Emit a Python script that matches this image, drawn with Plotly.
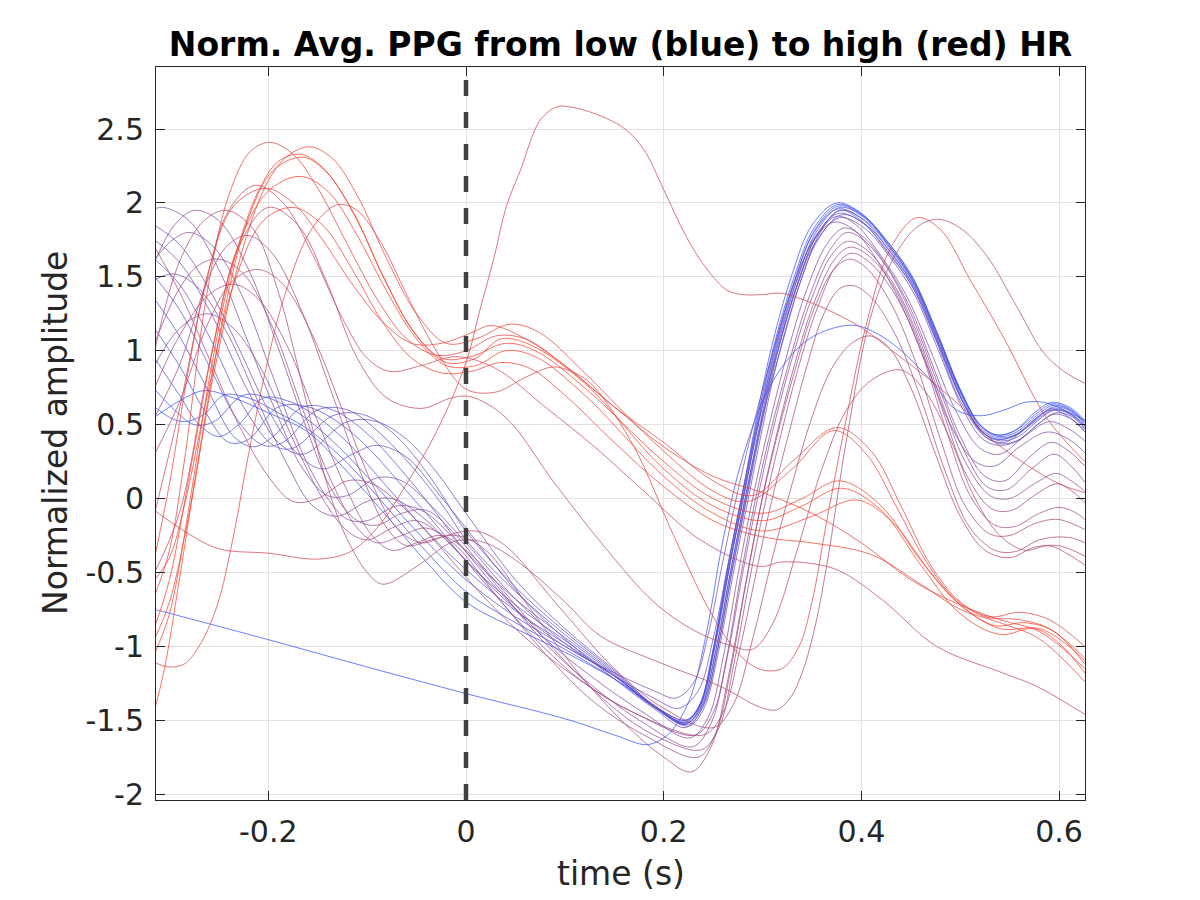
import plotly.graph_objects as go

# ---------------- data ----------------
# x tick / y tick labels
X_TICKS = [-0.2, 0.0, 0.2, 0.4, 0.6]
X_TICK_TEXT = ["-0.2", "0", "0.2", "0.4", "0.6"]
Y_TICKS = [-2, -1.5, -1, -0.5, 0, 0.5, 1, 1.5, 2, 2.5]
Y_TICK_TEXT = ["-2", "-1.5", "-1", "-0.5", "0", "0.5", "1", "1.5", "2", "2.5"]

# outlier (lowest HR)
T_BX = [-0.315, -0.2, -0.1, 0.0, 0.1, 0.15, 0.183, 0.2, 0.209, 0.22, 0.23, 0.245, 0.26, 0.28, 0.3075, 0.341, 0.37, 0.395, 0.42, 0.442, 0.47, 0.496, 0.52, 0.545, 0.565, 0.585, 0.605, 0.626]
V_BX = [-0.75, -0.955, -1.14, -1.32, -1.49, -1.6, -1.666, -1.62, -1.565, -1.45, -1.29, -0.85, -0.28, 0.28, 0.76, 1.05, 1.15, 1.17, 1.1, 0.99, 0.8, 0.6, 0.56, 0.6, 0.65, 0.65, 0.6, 0.53]

# blue bundle
T_B1 = [-0.315, -0.29, -0.265, -0.235, -0.2, -0.16, -0.12, -0.08, -0.04, 0.0, 0.05, 0.1, 0.15, 0.19, 0.22, 0.235, 0.25, 0.265, 0.28, 0.295, 0.31, 0.33, 0.35, 0.375, 0.4, 0.425, 0.45, 0.475, 0.5, 0.52, 0.537, 0.555, 0.575, 0.592, 0.61, 0.626]
V_B1 = [0.55, 0.66, 0.73, 0.68, 0.58, 0.45, 0.18, -0.12, -0.43, -0.70, -0.88, -1.04, -1.22, -1.40, -1.52, -1.42, -1.02, -0.45, 0.05, 0.58, 1.05, 1.52, 1.85, 2.0, 1.93, 1.75, 1.52, 1.15, 0.74, 0.5, 0.43, 0.46, 0.58, 0.65, 0.62, 0.53]
T_B2 = [-0.315, -0.3, -0.285, -0.265, -0.245, -0.22, -0.19, -0.16, -0.12, -0.08, -0.04, 0.0, 0.05, 0.1, 0.15, 0.19, 0.221, 0.236, 0.251, 0.266, 0.281, 0.296, 0.312, 0.332, 0.352, 0.376, 0.401, 0.426, 0.451, 0.476, 0.501, 0.521, 0.538, 0.556, 0.576, 0.593, 0.61, 0.626]
V_B2 = [0.62, 0.55, 0.52, 0.57, 0.70, 0.68, 0.58, 0.47, 0.24, -0.06, -0.36, -0.63, -0.84, -1.02, -1.22, -1.41, -1.53, -1.42, -1.0, -0.43, 0.07, 0.58, 1.05, 1.5, 1.83, 1.99, 1.92, 1.74, 1.5, 1.13, 0.72, 0.49, 0.43, 0.46, 0.57, 0.64, 0.61, 0.52]
T_B3 = [-0.315, -0.295, -0.275, -0.255, -0.225, -0.2, -0.17, -0.14, -0.1, -0.06, -0.03, 0.0, 0.05, 0.1, 0.15, 0.19, 0.222, 0.237, 0.252, 0.267, 0.282, 0.297, 0.313, 0.333, 0.353, 0.377, 0.402, 0.427, 0.452, 0.477, 0.502, 0.522, 0.539, 0.557, 0.577, 0.594, 0.611, 0.626]
V_B3 = [0.74, 0.6, 0.5, 0.52, 0.7, 0.68, 0.58, 0.42, 0.15, -0.15, -0.36, -0.55, -0.8, -1.0, -1.2, -1.4, -1.5, -1.4, -1.0, -0.45, 0.05, 0.55, 1.02, 1.48, 1.82, 1.98, 1.91, 1.72, 1.48, 1.1, 0.7, 0.48, 0.42, 0.45, 0.56, 0.63, 0.6, 0.51]
T_B4 = [-0.315, -0.29, -0.27, -0.25, -0.23, -0.205, -0.18, -0.15, -0.12, -0.08, -0.04, 0.0, 0.05, 0.1, 0.15, 0.19, 0.223, 0.238, 0.253, 0.268, 0.283, 0.298, 0.314, 0.334, 0.354, 0.378, 0.403, 0.428, 0.453, 0.478, 0.503, 0.523, 0.54, 0.558, 0.578, 0.595, 0.612, 0.626]
V_B4 = [0.95, 0.7, 0.5, 0.42, 0.5, 0.68, 0.66, 0.55, 0.38, 0.08, -0.22, -0.48, -0.76, -0.98, -1.2, -1.4, -1.52, -1.41, -1.02, -0.48, 0.02, 0.52, 1.0, 1.46, 1.8, 1.97, 1.9, 1.71, 1.46, 1.08, 0.68, 0.46, 0.41, 0.44, 0.55, 0.62, 0.59, 0.5]
T_B5 = [-0.315, -0.29, -0.265, -0.24, -0.22, -0.19, -0.16, -0.13, -0.1, -0.06, -0.03, 0.0, 0.05, 0.1, 0.15, 0.19, 0.221, 0.236, 0.251, 0.266, 0.281, 0.296, 0.312, 0.332, 0.352, 0.376, 0.401, 0.426, 0.451, 0.476, 0.501, 0.521, 0.538, 0.556, 0.576, 0.593, 0.61, 0.626]
V_B5 = [1.15, 0.9, 0.6, 0.38, 0.4, 0.62, 0.62, 0.52, 0.35, 0.05, -0.18, -0.42, -0.72, -0.96, -1.2, -1.41, -1.51, -1.4, -1.0, -0.46, 0.04, 0.55, 1.02, 1.47, 1.8, 1.96, 1.89, 1.7, 1.46, 1.08, 0.68, 0.46, 0.4, 0.43, 0.54, 0.61, 0.58, 0.49]
T_B6 = [-0.315, -0.29, -0.26, -0.235, -0.215, -0.195, -0.165, -0.135, -0.1, -0.06, -0.03, 0.0, 0.05, 0.1, 0.15, 0.19, 0.224, 0.239, 0.254, 0.269, 0.284, 0.299, 0.315, 0.335, 0.355, 0.379, 0.404, 0.429, 0.454, 0.479, 0.504, 0.524, 0.541, 0.559, 0.579, 0.596, 0.613, 0.626]
V_B6 = [1.35, 1.1, 0.72, 0.42, 0.35, 0.42, 0.62, 0.6, 0.44, 0.15, -0.1, -0.36, -0.68, -0.94, -1.19, -1.41, -1.53, -1.42, -1.04, -0.5, 0.0, 0.5, 0.98, 1.44, 1.78, 1.95, 1.88, 1.69, 1.44, 1.05, 0.65, 0.44, 0.39, 0.42, 0.53, 0.6, 0.57, 0.49]
T_B7 = [-0.315, -0.29, -0.26, -0.23, -0.205, -0.185, -0.15, -0.12, -0.09, -0.05, -0.02, 0.0, 0.05, 0.1, 0.15, 0.19, 0.222, 0.237, 0.252, 0.267, 0.282, 0.297, 0.313, 0.333, 0.353, 0.377, 0.402, 0.427, 0.452, 0.477, 0.502, 0.522, 0.539, 0.557, 0.577, 0.594, 0.611, 0.626]
V_B7 = [1.5, 1.28, 0.9, 0.52, 0.36, 0.38, 0.6, 0.6, 0.46, 0.18, -0.08, -0.28, -0.63, -0.92, -1.18, -1.4, -1.5, -1.39, -0.98, -0.44, 0.05, 0.54, 1.0, 1.45, 1.77, 1.93, 1.86, 1.67, 1.43, 1.05, 0.66, 0.45, 0.4, 0.43, 0.53, 0.6, 0.57, 0.48]
T_B8 = [-0.315, -0.29, -0.26, -0.225, -0.195, -0.175, -0.135, -0.105, -0.075, -0.04, 0.0, 0.05, 0.1, 0.15, 0.19, 0.225, 0.24, 0.255, 0.27, 0.285, 0.3, 0.316, 0.336, 0.356, 0.38, 0.405, 0.43, 0.455, 0.48, 0.505, 0.525, 0.542, 0.56, 0.58, 0.597, 0.614, 0.626]
V_B8 = [1.62, 1.45, 1.1, 0.62, 0.36, 0.34, 0.56, 0.57, 0.45, 0.18, -0.22, -0.6, -0.9, -1.17, -1.4, -1.54, -1.43, -1.05, -0.52, -0.02, 0.48, 0.96, 1.42, 1.75, 1.92, 1.85, 1.66, 1.41, 1.02, 0.62, 0.42, 0.37, 0.4, 0.51, 0.58, 0.55, 0.47]
T_B9 = [-0.315, -0.29, -0.26, -0.22, -0.19, -0.165, -0.12, -0.09, -0.06, -0.03, 0.0, 0.05, 0.1, 0.15, 0.19, 0.223, 0.238, 0.253, 0.268, 0.283, 0.298, 0.314, 0.334, 0.354, 0.378, 0.403, 0.428, 0.453, 0.478, 0.503, 0.523, 0.54, 0.558, 0.578, 0.595, 0.612, 0.626]
V_B9 = [1.75, 1.6, 1.28, 0.72, 0.38, 0.3, 0.52, 0.52, 0.4, 0.18, -0.1, -0.55, -0.88, -1.16, -1.4, -1.52, -1.41, -1.02, -0.48, 0.02, 0.5, 0.97, 1.42, 1.74, 1.9, 1.83, 1.64, 1.39, 1.0, 0.6, 0.4, 0.36, 0.39, 0.5, 0.57, 0.54, 0.46]

# purple group
T_M1 = [-0.315, -0.29, -0.26, -0.23, -0.2, -0.17, -0.145, -0.115, -0.09, -0.06, -0.03, 0.0, 0.05, 0.1, 0.15, 0.19, 0.222, 0.24, 0.255, 0.27, 0.285, 0.3, 0.32, 0.34, 0.36, 0.378, 0.4, 0.425, 0.45, 0.475, 0.5, 0.525, 0.545, 0.57, 0.592, 0.61, 0.626]
V_M1 = [1.85, 1.72, 1.42, 1.02, 0.6, 0.3, 0.2, 0.3, 0.36, 0.28, 0.05, -0.2, -0.62, -0.95, -1.22, -1.42, -1.55, -1.4, -1.0, -0.45, 0.05, 0.55, 1.05, 1.5, 1.82, 1.95, 1.88, 1.68, 1.45, 1.08, 0.66, 0.42, 0.38, 0.5, 0.6, 0.55, 0.45]
T_M2 = [-0.315, -0.306, -0.28, -0.25, -0.22, -0.19, -0.165, -0.14, -0.12, -0.09, -0.065, -0.035, 0.0, 0.05, 0.1, 0.15, 0.19, 0.215, 0.235, 0.25, 0.265, 0.28, 0.295, 0.315, 0.335, 0.355, 0.375, 0.395, 0.42, 0.445, 0.47, 0.495, 0.52, 0.54, 0.565, 0.59, 0.61, 0.626]
V_M2 = [1.96, 1.97, 1.88, 1.55, 1.05, 0.55, 0.2, 0.02, 0.02, 0.14, 0.12, -0.05, -0.3, -0.68, -0.98, -1.2, -1.35, -1.42, -1.3, -0.95, -0.45, 0.05, 0.5, 1.0, 1.45, 1.78, 1.91, 1.85, 1.64, 1.38, 1.0, 0.6, 0.34, 0.3, 0.42, 0.52, 0.47, 0.39]
T_M3 = [-0.315, -0.295, -0.27, -0.24, -0.21, -0.18, -0.155, -0.13, -0.1, -0.075, -0.045, 0.0, 0.05, 0.1, 0.15, 0.19, 0.212, 0.23, 0.245, 0.26, 0.275, 0.29, 0.31, 0.33, 0.352, 0.372, 0.392, 0.415, 0.44, 0.465, 0.49, 0.515, 0.535, 0.56, 0.588, 0.61, 0.626]
V_M3 = [1.48, 1.52, 1.42, 1.1, 0.65, 0.22, -0.05, -0.12, -0.02, 0.0, -0.12, -0.42, -0.75, -1.0, -1.18, -1.3, -1.35, -1.25, -0.92, -0.42, 0.05, 0.48, 0.98, 1.42, 1.75, 1.87, 1.82, 1.62, 1.32, 0.92, 0.5, 0.25, 0.22, 0.35, 0.45, 0.4, 0.31]
T_M4 = [-0.315, -0.295, -0.279, -0.255, -0.225, -0.195, -0.165, -0.14, -0.12, -0.1, -0.07, -0.045, -0.015, 0.03, 0.08, 0.13, 0.18, 0.226, 0.245, 0.26, 0.275, 0.29, 0.305, 0.325, 0.345, 0.365, 0.382, 0.4, 0.425, 0.45, 0.475, 0.5, 0.525, 0.545, 0.57, 0.592, 0.61, 0.626]
V_M4 = [1.62, 1.76, 1.80, 1.7, 1.35, 0.82, 0.3, 0.0, -0.14, -0.15, -0.05, -0.08, -0.25, -0.6, -0.95, -1.22, -1.45, -1.62, -1.48, -1.08, -0.52, 0.0, 0.45, 0.98, 1.42, 1.72, 1.83, 1.78, 1.58, 1.28, 0.85, 0.42, 0.15, 0.12, 0.28, 0.38, 0.32, 0.22]
T_M5 = [-0.315, -0.295, -0.275, -0.25, -0.22, -0.19, -0.16, -0.135, -0.11, -0.09, -0.065, -0.04, -0.01, 0.03, 0.08, 0.13, 0.18, 0.229, 0.248, 0.263, 0.278, 0.293, 0.308, 0.328, 0.348, 0.368, 0.385, 0.402, 0.427, 0.452, 0.477, 0.502, 0.527, 0.547, 0.572, 0.595, 0.612, 0.626]
V_M5 = [1.6, 1.85, 1.95, 1.88, 1.55, 1.02, 0.45, 0.05, -0.15, -0.18, -0.1, -0.08, -0.25, -0.58, -0.98, -1.28, -1.52, -1.68, -1.52, -1.1, -0.52, 0.0, 0.45, 0.95, 1.38, 1.68, 1.80, 1.75, 1.55, 1.22, 0.78, 0.35, 0.08, 0.06, 0.2, 0.3, 0.22, 0.11]
T_M6 = [-0.315, -0.29, -0.262, -0.235, -0.205, -0.175, -0.145, -0.12, -0.1, -0.075, -0.05, -0.02, 0.02, 0.07, 0.12, 0.17, 0.232, 0.25, 0.265, 0.28, 0.295, 0.31, 0.33, 0.35, 0.37, 0.386, 0.404, 0.43, 0.455, 0.48, 0.505, 0.53, 0.55, 0.575, 0.597, 0.612, 0.626]
V_M6 = [0.9, 1.15, 1.25, 1.15, 0.85, 0.4, 0.0, -0.22, -0.28, -0.2, -0.15, -0.28, -0.58, -0.95, -1.25, -1.45, -1.6, -1.45, -1.05, -0.5, 0.0, 0.45, 0.95, 1.36, 1.65, 1.74, 1.69, 1.48, 1.14, 0.68, 0.25, 0.02, 0.0, 0.1, 0.17, 0.12, 0.05]
T_M7 = [-0.315, -0.29, -0.27, -0.25, -0.225, -0.195, -0.165, -0.135, -0.11, -0.09, -0.065, -0.04, -0.01, 0.03, 0.08, 0.13, 0.18, 0.235, 0.253, 0.268, 0.283, 0.298, 0.313, 0.333, 0.353, 0.373, 0.388, 0.406, 0.432, 0.457, 0.482, 0.507, 0.532, 0.552, 0.577, 0.598, 0.613, 0.626]
V_M7 = [1.05, 1.42, 1.58, 1.62, 1.52, 1.15, 0.6, 0.1, -0.2, -0.3, -0.25, -0.2, -0.32, -0.65, -1.05, -1.38, -1.6, -1.75, -1.58, -1.15, -0.58, -0.05, 0.4, 0.92, 1.34, 1.62, 1.70, 1.65, 1.44, 1.08, 0.6, 0.15, -0.07, -0.08, 0.03, 0.1, 0.05, -0.03]
T_M8 = [-0.315, -0.29, -0.26, -0.235, -0.21, -0.18, -0.15, -0.12, -0.095, -0.075, -0.05, -0.025, 0.005, 0.05, 0.1, 0.15, 0.19, 0.238, 0.256, 0.271, 0.286, 0.301, 0.316, 0.336, 0.356, 0.375, 0.39, 0.408, 0.434, 0.46, 0.485, 0.51, 0.535, 0.555, 0.58, 0.6, 0.615, 0.626]
V_M8 = [0.75, 1.1, 1.38, 1.45, 1.35, 1.02, 0.52, 0.05, -0.25, -0.35, -0.3, -0.25, -0.38, -0.72, -1.1, -1.42, -1.6, -1.7, -1.55, -1.12, -0.58, -0.08, 0.36, 0.88, 1.3, 1.58, 1.66, 1.6, 1.38, 1.0, 0.48, 0.02, -0.18, -0.19, -0.1, -0.06, -0.09, -0.14]
T_M9 = [-0.315, -0.29, -0.26, -0.24, -0.22, -0.195, -0.165, -0.135, -0.105, -0.08, -0.06, -0.035, -0.01, 0.02, 0.06, 0.11, 0.16, 0.2, 0.228, 0.248, 0.265, 0.28, 0.296, 0.312, 0.332, 0.352, 0.372, 0.388, 0.405, 0.43, 0.455, 0.48, 0.505, 0.53, 0.55, 0.575, 0.597, 0.613, 0.626]
V_M9 = [0.55, 0.9, 1.5, 1.72, 1.78, 1.65, 1.25, 0.7, 0.15, -0.2, -0.32, -0.28, -0.25, -0.35, -0.7, -1.15, -1.52, -1.75, -1.85, -1.68, -1.22, -0.68, -0.12, 0.35, 0.85, 1.28, 1.55, 1.62, 1.56, 1.32, 0.92, 0.4, -0.05, -0.24, -0.25, -0.17, -0.14, -0.17, -0.21]
T_M10 = [-0.315, -0.29, -0.26, -0.23, -0.2, -0.175, -0.15, -0.12, -0.095, -0.065, -0.03, 0.02, 0.07, 0.12, 0.17, 0.24, 0.26, 0.276, 0.292, 0.308, 0.325, 0.345, 0.362, 0.378, 0.392, 0.41, 0.435, 0.46, 0.485, 0.51, 0.535, 0.555, 0.58, 0.6, 0.615, 0.626]
V_M10 = [1.7, 1.4, 0.95, 0.5, 0.15, -0.02, 0.0, 0.12, 0.1, -0.05, -0.3, -0.68, -1.0, -1.25, -1.45, -1.6, -1.45, -1.05, -0.55, -0.05, 0.4, 0.9, 1.25, 1.42, 1.44, 1.36, 1.1, 0.68, 0.18, -0.2, -0.35, -0.36, -0.28, -0.26, -0.27, -0.3]
T_M11 = [-0.315, -0.29, -0.26, -0.235, -0.21, -0.185, -0.155, -0.125, -0.095, -0.07, -0.045, -0.02, 0.01, 0.04, 0.09, 0.15, 0.2, 0.25, 0.27, 0.29, 0.31, 0.33, 0.35, 0.37, 0.39, 0.409, 0.428, 0.45, 0.475, 0.5, 0.525, 0.55, 0.575, 0.6, 0.626]
V_M11 = [0.3, 0.65, 1.2, 1.48, 1.55, 1.45, 1.1, 0.6, 0.1, -0.2, -0.3, -0.25, -0.22, -0.32, -0.7, -1.15, -1.42, -1.55, -1.4, -0.95, -0.4, 0.1, 0.55, 0.88, 1.05, 1.1, 1.02, 0.75, 0.3, -0.12, -0.35, -0.4, -0.33, -0.32, -0.39]

# pink / magenta curves
T_L2 = [-0.315, -0.29, -0.265, -0.242, -0.215, -0.19, -0.165, -0.145, -0.124, -0.1, -0.084, -0.05, -0.016, 0.0, 0.02, 0.055, 0.1, 0.136, 0.196, 0.257, 0.297, 0.314, 0.328, 0.34, 0.352, 0.365, 0.385, 0.409, 0.432, 0.455, 0.476, 0.5, 0.527, 0.557, 0.584, 0.605, 0.626]
V_L2 = [1.0, 1.6, 1.88, 1.95, 1.82, 1.4, 0.75, 0.2, -0.22, -0.5, -0.58, -0.46, -0.3, -0.28, -0.3, -0.44, -0.7, -0.93, -1.11, -1.27, -1.41, -1.43, -1.35, -1.18, -0.9, -0.45, 0.4, 1.22, 1.62, 1.83, 1.89, 1.83, 1.64, 1.3, 0.99, 0.86, 0.78]
T_Q2 = [-0.315, -0.29, -0.26, -0.23, -0.2, -0.17, -0.14, -0.11, -0.08, -0.045, -0.015, 0.004, 0.04, 0.09, 0.143, 0.19, 0.23, 0.27, 0.29, 0.31, 0.335, 0.36, 0.385, 0.41, 0.44, 0.465, 0.49, 0.515, 0.54, 0.565, 0.59, 0.61, 0.626]
V_Q2 = [-0.5, -0.1, 0.9, 1.7, 1.97, 1.85, 1.45, 0.95, 0.68, 0.61, 0.68, 0.69, 0.55, 0.1, -0.35, -0.7, -0.89, -1.0, -1.02, -0.85, -0.35, 0.2, 0.6, 0.8, 0.87, 0.72, 0.4, 0.0, -0.25, -0.35, -0.32, -0.38, -0.45]
T_Q1 = [-0.315, -0.29, -0.265, -0.24, -0.213, -0.185, -0.155, -0.125, -0.1, -0.077, -0.045, -0.01, 0.03, 0.08, 0.13, 0.18, 0.237, 0.297, 0.318, 0.35, 0.378, 0.422, 0.476, 0.543, 0.577, 0.626]
V_Q1 = [-0.1, 0.6, 1.4, 1.95, 2.12, 2.0, 1.65, 1.22, 0.95, 0.86, 0.9, 0.96, 0.88, 0.62, 0.35, 0.05, -0.28, -0.46, -0.43, -0.44, -0.49, -0.69, -1.0, -1.18, -1.27, -1.46]
T_PB = [-0.315, -0.285, -0.25, -0.2, -0.15, -0.117, -0.09, -0.06, -0.03, 0.0, 0.014, 0.028, 0.041, 0.055, 0.075, 0.092, 0.105, 0.136, 0.161, 0.18, 0.2, 0.223, 0.244, 0.264, 0.28, 0.3, 0.318, 0.335, 0.365, 0.399, 0.435, 0.47, 0.507, 0.523, 0.56, 0.6, 0.626]
V_PB = [-0.08, -0.22, -0.34, -0.37, -0.41, -0.36, -0.2, 0.1, 0.45, 0.92, 1.275, 1.62, 1.98, 2.22, 2.56, 2.65, 2.65, 2.59, 2.5, 2.36, 2.09, 1.77, 1.55, 1.41, 1.38, 1.38, 1.39, 1.36, 1.28, 1.16, 0.98, 0.8, 0.58, 0.45, 0.26, 0.1, 0.04]
T_L1 = [-0.315, -0.3, -0.285, -0.27, -0.252, -0.236, -0.22, -0.2, -0.185, -0.16, -0.14, -0.128, -0.11, -0.085, -0.06, -0.03, 0.0, 0.03, 0.06, 0.088, 0.11, 0.129, 0.17, 0.21, 0.25, 0.28, 0.3, 0.32, 0.337, 0.35, 0.365, 0.385, 0.405, 0.43, 0.456, 0.48, 0.51, 0.543, 0.584, 0.605, 0.626]
V_L1 = [-1.11, -1.14, -1.12, -1.0, -0.73, -0.28, 0.3, 0.95, 1.34, 1.78, 1.95, 1.99, 1.95, 1.72, 1.38, 1.0, 0.74, 0.72, 0.82, 0.89, 0.85, 0.76, 0.35, -0.25, -0.8, -1.08, -1.16, -1.15, -1.0, -0.7, -0.15, 0.55, 1.18, 1.7, 1.9, 1.82, 1.48, 1.1, 0.58, 0.4, 0.25]

# red group (highest HR)
T_R1 = [-0.315, -0.3, -0.285, -0.262, -0.24, -0.218, -0.198, -0.175, -0.15, -0.12, -0.09, -0.06, -0.03, 0.0, 0.03, 0.06, 0.1, 0.15, 0.2, 0.25, 0.29, 0.33, 0.375, 0.41, 0.44, 0.47, 0.5, 0.53, 0.56, 0.59, 0.626]
V_R1 = [-0.66, -0.35, 0.25, 1.39, 2.05, 2.35, 2.41, 2.33, 2.1, 1.72, 1.35, 1.08, 0.97, 1.0, 1.1, 1.08, 0.9, 0.62, 0.38, 0.12, 0.02, 0.25, 0.48, 0.32, -0.05, -0.45, -0.7, -0.8, -0.77, -0.82, -1.0]
T_R2 = [-0.315, -0.3, -0.28, -0.255, -0.225, -0.2, -0.18, -0.158, -0.135, -0.11, -0.08, -0.05, -0.02, 0.01, 0.045, 0.075, 0.12, 0.16, 0.2, 0.25, 0.285, 0.33, 0.372, 0.405, 0.435, 0.465, 0.495, 0.525, 0.56, 0.59, 0.626]
V_R2 = [-0.95, -0.7, -0.1, 0.85, 1.71, 2.15, 2.32, 2.38, 2.3, 2.05, 1.62, 1.25, 1.05, 1.08, 1.18, 1.12, 0.85, 0.58, 0.32, 0.05, -0.02, 0.2, 0.46, 0.3, -0.05, -0.42, -0.68, -0.8, -0.82, -0.88, -1.08]
T_R3 = [-0.315, -0.3, -0.28, -0.26, -0.235, -0.21, -0.19, -0.168, -0.145, -0.115, -0.085, -0.055, -0.025, 0.005, 0.04, 0.07, 0.12, 0.2, 0.25, 0.3, 0.34, 0.378, 0.42, 0.46, 0.5, 0.535, 0.565, 0.595, 0.626]
V_R3 = [-1.05, -0.78, -0.05, 0.8, 1.6, 2.08, 2.28, 2.33, 2.24, 1.95, 1.52, 1.15, 0.95, 0.96, 1.05, 1.0, 0.75, 0.25, 0.0, -0.1, 0.0, 0.12, -0.05, -0.42, -0.72, -0.86, -0.84, -0.9, -1.12]
T_R4 = [-0.315, -0.305, -0.29, -0.27, -0.245, -0.22, -0.195, -0.165, -0.14, -0.11, -0.08, -0.05, -0.02, 0.01, 0.035, 0.065, 0.12, 0.2, 0.25, 0.3, 0.34, 0.38, 0.42, 0.46, 0.5, 0.54, 0.575, 0.6, 0.626]
V_R4 = [-1.43, -1.15, -0.55, 0.3, 1.25, 1.9, 2.22, 2.31, 2.2, 1.88, 1.45, 1.1, 0.92, 0.95, 1.08, 1.04, 0.78, 0.2, -0.05, -0.15, -0.05, 0.07, -0.08, -0.45, -0.78, -0.92, -0.88, -0.98, -1.18]
T_R5 = [-0.315, -0.3, -0.28, -0.255, -0.23, -0.2, -0.168, -0.14, -0.11, -0.08, -0.05, -0.02, 0.01, 0.04, 0.07, 0.12, 0.2, 0.25, 0.3, 0.35, 0.395, 0.43, 0.47, 0.5, 0.54, 0.58, 0.61, 0.626]
V_R5 = [-0.87, -0.55, 0.15, 1.05, 1.72, 2.08, 2.18, 2.08, 1.78, 1.4, 1.08, 0.9, 0.9, 1.0, 0.96, 0.7, 0.15, -0.1, -0.22, -0.12, -0.01, -0.15, -0.5, -0.72, -0.88, -0.88, -1.0, -1.1]
T_R6 = [-0.315, -0.3, -0.28, -0.26, -0.235, -0.203, -0.175, -0.145, -0.115, -0.085, -0.055, -0.025, 0.005, 0.025, 0.055, 0.1, 0.15, 0.2, 0.25, 0.3, 0.35, 0.4, 0.45, 0.5, 0.54, 0.58, 0.626]
V_R6 = [-0.4, 0.1, 0.9, 1.55, 1.98, 2.10, 2.0, 1.75, 1.45, 1.2, 1.05, 1.05, 1.12, 1.17, 1.1, 0.9, 0.62, 0.35, 0.15, 0.04, -0.1, -0.3, -0.55, -0.72, -0.82, -0.9, -1.15]
T_R7 = [-0.315, -0.3, -0.285, -0.26, -0.235, -0.205, -0.175, -0.145, -0.115, -0.085, -0.055, -0.025, 0.005, 0.035, 0.065, 0.1, 0.15, 0.2, 0.25, 0.3, 0.35, 0.41, 0.46, 0.5, 0.54, 0.58, 0.626]
V_R7 = [-0.55, -0.4, -0.05, 0.75, 1.45, 1.88, 1.97, 1.85, 1.55, 1.2, 0.95, 0.85, 0.86, 0.92, 0.88, 0.7, 0.38, 0.08, -0.15, -0.26, -0.3, -0.38, -0.58, -0.75, -0.84, -0.95, -1.24]

# curves ordered from low HR (blue) to high HR (red), with colour position
CURVES = [
    (T_BX, V_BX, 0.00), (T_B1, V_B1, 0.03), (T_B2, V_B2, 0.06), (T_B3, V_B3, 0.09),
    (T_B4, V_B4, 0.12), (T_B5, V_B5, 0.15), (T_B6, V_B6, 0.18), (T_B7, V_B7, 0.21),
    (T_B8, V_B8, 0.25), (T_B9, V_B9, 0.29), (T_M1, V_M1, 0.33), (T_M2, V_M2, 0.37),
    (T_M3, V_M3, 0.40), (T_M4, V_M4, 0.43), (T_M5, V_M5, 0.46), (T_M6, V_M6, 0.49),
    (T_M7, V_M7, 0.52), (T_M8, V_M8, 0.55), (T_M9, V_M9, 0.58), (T_M10, V_M10, 0.61),
    (T_M11, V_M11, 0.64), (T_L2, V_L2, 0.62), (T_Q2, V_Q2, 0.70), (T_Q1, V_Q1, 0.74),
    (T_PB, V_PB, 0.80), (T_L1, V_L1, 0.84), (T_R1, V_R1, 0.87), (T_R6, V_R6, 0.89),
    (T_R7, V_R7, 0.91), (T_R2, V_R2, 0.93), (T_R3, V_R3, 0.95), (T_R5, V_R5, 0.97),
    (T_R4, V_R4, 1.00),
]

BLUE = (40, 80, 255)
RED = (255, 60, 30)


def mix(f):
    r = round(BLUE[0] + (RED[0] - BLUE[0]) * f)
    g = round(BLUE[1] + (RED[1] - BLUE[1]) * f)
    b = round(BLUE[2] + (RED[2] - BLUE[2]) * f)
    return f"rgba({r},{g},{b},0.72)"


fig = go.Figure()
for t, v, f in CURVES:
    fig.add_trace(go.Scatter(
        x=t, y=v, mode="lines",
        line=dict(color=mix(f), width=1, shape="spline", smoothing=1.0),
        hoverinfo="skip", showlegend=False,
    ))

FONT = "DejaVu Sans"
AX = "#262626"
PLOT_L, PLOT_R, PLOT_T, PLOT_B = 156, 1085, 67, 800
PH = PLOT_B - PLOT_T
PW = PLOT_R - PLOT_L

fig.add_shape(type="line", xref="x", yref="paper", x0=0, x1=0, y0=0, y1=1,
              line=dict(color="#404040", width=4.5, dash="16px,16px"), layer="above")

# axis titles as annotations (exact placement)
fig.add_annotation(text="time (s)", xref="paper", yref="paper",
                   x=0.5, y=-(873 - PLOT_B) / PH, xanchor="center", yanchor="middle",
                   showarrow=False, font=dict(family=FONT, size=33, color=AX))
fig.add_annotation(text="Normalized amplitude", xref="paper", yref="paper",
                   x=-(PLOT_L - 55) / PW, y=(PLOT_B - 433) / PH, xanchor="center", yanchor="middle",
                   textangle=-90, showarrow=False, font=dict(family=FONT, size=33, color=AX))

fig.update_layout(
    width=1200, height=900,
    margin=dict(l=PLOT_L, r=1200 - PLOT_R, t=PLOT_T, b=900 - PLOT_B, autoexpand=False),
    paper_bgcolor="white", plot_bgcolor="white",
    font=dict(family=FONT, color=AX),
    title=dict(text="<b>Norm. Avg. PPG from low (blue) to high (red) HR</b>",
               font=dict(family=FONT, size=33, color="black"),
               x=(PLOT_L + PLOT_R) / 2 / 1200, xref="container", xanchor="center",
               y=1 - 44 / 900, yref="container", yanchor="middle"),
    xaxis=dict(range=[-0.3136, 0.6262], tickvals=X_TICKS, ticktext=X_TICK_TEXT,
               ticks="inside", ticklen=9, tickcolor=AX, showline=True, linecolor=AX,
               linewidth=1, mirror="ticks", showgrid=True, gridcolor="#e1e1e1",
               gridwidth=1, zeroline=False, automargin=False, ticklabelstandoff=5,
               tickfont=dict(size=30, family=FONT, color=AX)),
    yaxis=dict(range=[-2.04, 2.92], tickvals=Y_TICKS, ticktext=Y_TICK_TEXT,
               ticks="inside", ticklen=9, tickcolor=AX, showline=True, linecolor=AX,
               linewidth=1, mirror="ticks", showgrid=True, gridcolor="#e1e1e1",
               gridwidth=1, zeroline=False, automargin=False, ticklabelstandoff=5,
               tickfont=dict(size=30, family=FONT, color=AX)),
)

# the page body has a default 8px margin; remove it so the figure sits at (0,0)
fig.write_html("out.html", config={"displayModeBar": False},
               post_script="document.body.style.margin='0px';")
